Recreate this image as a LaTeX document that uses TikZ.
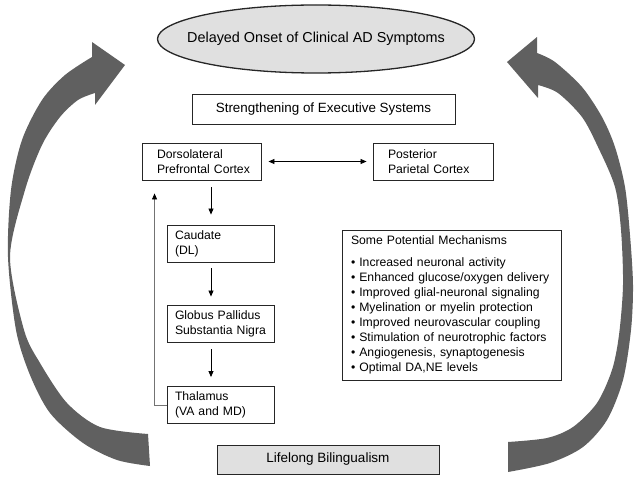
\documentclass[tikz,border=0pt]{standalone}
\usepackage{fontspec}
\setmainfont{Liberation Sans}
\usetikzlibrary{shapes.geometric,arrows.meta}
\definecolor{boxgray}{RGB}{224,224,224}
\definecolor{arcgray}{RGB}{96,96,96}
\definecolor{linegray}{RGB}{115,115,115}
\tikzset{
  bbox/.style={draw=black!85,line width=0.9pt,align=left,inner ysep=0pt,minimum height=37pt,font=\fontsize{12.2}{14.8}\selectfont},
  flow/.style={-{Triangle[length=6pt,width=5pt,black]},line width=0.8pt},
  bigarrow/.style={fill=arcgray},
}
\begin{document}
\begin{tikzpicture}[x=1pt,y=-1pt]
\useasboundingbox (0,0) rectangle (635,481);
% big arrows
\fill[bigarrow] plot[smooth] coordinates {(150,466) (117,460) (83,443) (50,413) (30,375) (16,330) (8,257) (11,190) (22,140) (42,100) (65,75) (92,57)}
  -- (92,42) -- (125,65) -- (95,105) -- (95,93)
  -- plot[smooth] coordinates {(95,93) (78,100) (60,117) (42,145) (25,190) (10,257) (24,330) (40,363) (67,403) (100,427) (148,434)} -- cycle;
\fill[bigarrow] plot[smooth] coordinates {(508,472) (550,463) (583,447) (607,420) (623,380) (631,330) (633,285) (630,235) (625,187) (615,147) (602,117) (582,87) (555,62) (537,53)}
  -- (537,37) -- (507,62) -- (538,98) -- (538,85)
  -- plot[smooth] coordinates {(538,85) (558,93) (582,117) (598,147) (615,187) (621,230) (623,285) (619,335) (612,370) (597,403) (573,427) (547,438) (508,442)} -- cycle;
% nodes
\node[draw=black!85,ellipse,fill=boxgray,line width=1.3pt,minimum width=317pt,minimum height=68pt,inner sep=0pt,font=\fontsize{14.4}{17}\selectfont] (onset) at (316,39) {\makebox[0pt]{Delayed Onset of Clinical AD Symptoms}};
\node[draw=black!85,line width=0.9pt,minimum width=263pt,minimum height=30pt,font=\fontsize{13.4}{16}\selectfont] (exec) at (323.5,109) {Strengthening of Executive Systems};
\node[bbox,text width=89pt,inner xsep=15pt] (dlpfc) at (201.5,161.5) {\mbox{Dorsolateral}\\\mbox{Prefrontal Cortex}};
\node[bbox,text width=90pt,inner xsep=15pt] (post) at (433,161.5) {\mbox{Posterior}\\\mbox{Parietal Cortex}};
\node[bbox,text width=91pt,inner xsep=8pt] (caud) at (220.5,243.5) {\mbox{Caudate}\\\mbox{(DL)}};
\node[bbox,text width=91pt,inner xsep=8pt] (glob) at (220.5,323.5) {\mbox{Globus Pallidus}\\\mbox{Substantia Nigra}};
\node[bbox,text width=91pt,inner xsep=8pt] (thal) at (220.5,405) {\mbox{Thalamus}\\\mbox{(VA and MD)}};
\node[bbox,text width=201pt,inner xsep=9pt,minimum height=150pt,font=\fontsize{12.2}{15}\selectfont] (mech) at (451.5,305) {Some Potential Mechanisms\\[7pt]
• Increased neuronal activity\\
• Enhanced glucose/oxygen delivery\\
• Improved glial-neuronal signaling\\
• Myelination or myelin protection\\
• Improved neurovascular coupling\\
• Stimulation of neurotrophic factors\\
• Angiogenesis, synaptogenesis\\
• Optimal DA,NE levels};
\node[draw=black!85,fill=boxgray,line width=0.9pt,minimum width=222pt,minimum height=29pt,font=\fontsize{13.5}{16}\selectfont] (life) at (328,459.5) {Lifelong Bilingualism};
% connectors
\draw[{Triangle[length=6pt,width=5pt]}-{Triangle[length=6pt,width=5pt]},line width=0.8pt,shorten <=7pt,shorten >=6pt] (dlpfc.east) -- (post.west);
\draw[flow,shorten <=7pt,shorten >=10pt] ([xshift=-9.5pt]caud.north |- dlpfc.south) -- ([xshift=-9.5pt]caud.north);
\draw[flow,shorten <=6pt,shorten >=8pt] ([xshift=-9.5pt]caud.south) -- ([xshift=-9.5pt]glob.north);
\draw[flow,shorten <=7pt,shorten >=9pt] ([xshift=-9.5pt]glob.south) -- ([xshift=-9.5pt]thal.north);
\draw[flow,draw=linegray,shorten >=13pt] (thal.west) -| ([xshift=13pt]dlpfc.south west);
\end{tikzpicture}
\end{document}
